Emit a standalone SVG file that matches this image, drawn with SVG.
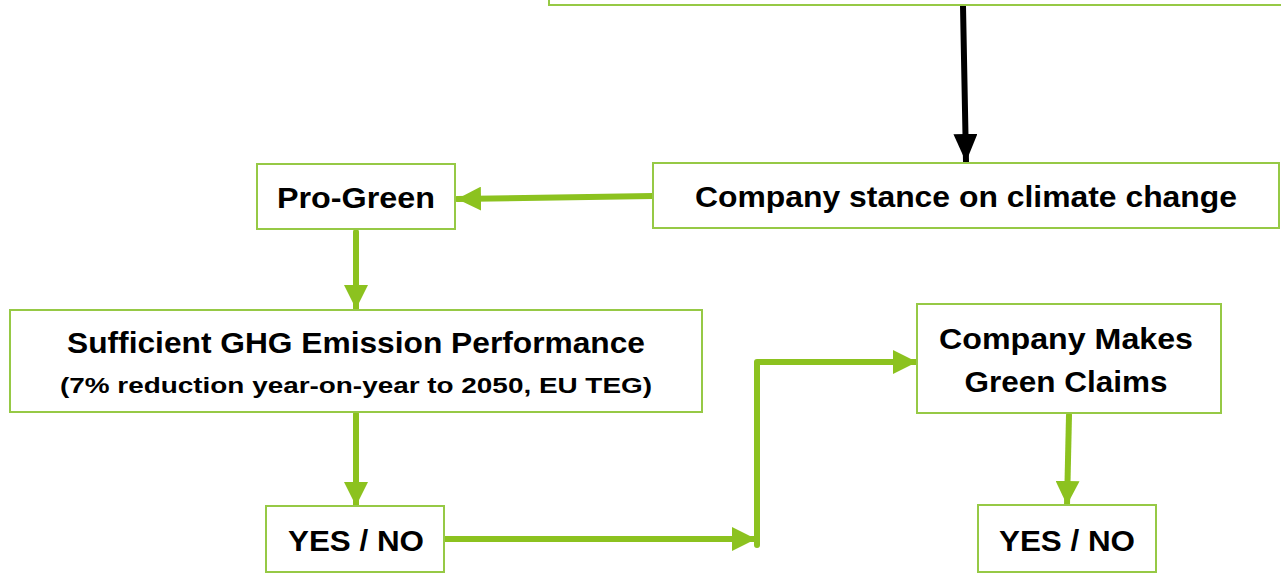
<svg xmlns="http://www.w3.org/2000/svg" width="1281" height="578" viewBox="0 0 1281 578">
  <style>
    .box { fill: #ffffff; stroke: #96c945; stroke-width: 2; }
    .lbl { font-family: "Liberation Sans", Arial, sans-serif; font-weight: bold; fill: #000000; text-anchor: middle; }
    .big { font-size: 29px; }
    .small { font-size: 22px; }
    .link { fill: none; stroke: #8cc21f; stroke-width: 6; stroke-linecap: round; stroke-linejoin: round; }
    .dark { fill: none; stroke: #000000; stroke-width: 6; stroke-linecap: round; }
  </style>
  <defs>
    <marker id="headGreen" viewBox="0 0 24 24" refX="24" refY="12" markerUnits="userSpaceOnUse" markerWidth="24" markerHeight="24" orient="auto">
      <path d="M0,0 L24,12 L0,24 Z" fill="#8cc21f"/>
    </marker>
    <marker id="headBlack" viewBox="0 0 28 24" refX="28" refY="12" markerUnits="userSpaceOnUse" markerWidth="28" markerHeight="24" orient="auto">
      <path d="M0,0 L28,12 L0,24 Z" fill="#000000"/>
    </marker>
  </defs>
  <rect width="1281" height="578" fill="#ffffff"/>

  <g id="connectors">
    <path class="dark" d="M963,6 L966,162" marker-end="url(#headBlack)"/>
    <path class="link" d="M653,196 L457,199" marker-end="url(#headGreen)"/>
    <path class="link" d="M356,232 L356,309" marker-end="url(#headGreen)"/>
    <path class="link" d="M356,414 L356,506" marker-end="url(#headGreen)"/>
    <path class="link" d="M444,539 L756,539" marker-end="url(#headGreen)"/>
    <path class="link" d="M757,545 L757,362 L917,362" marker-end="url(#headGreen)"/>
    <path class="link" d="M1069,415 L1067,505" marker-end="url(#headGreen)"/>
  </g>

  <g id="node-top">
    <rect class="box" x="549" y="-40" width="760" height="45"/>
  </g>

  <g id="node-stance">
    <rect class="box" x="653" y="163" width="626" height="65"/>
    <text class="lbl big" x="966" y="207" textLength="542" lengthAdjust="spacingAndGlyphs">Company stance on climate change</text>
  </g>

  <g id="node-progreen">
    <rect class="box" x="257" y="164" width="198" height="65"/>
    <text class="lbl big" x="356" y="208" textLength="158" lengthAdjust="spacingAndGlyphs">Pro-Green</text>
  </g>

  <g id="node-ghg">
    <rect class="box" x="10" y="310" width="692" height="102"/>
    <text class="lbl big" x="356" y="353" textLength="578" lengthAdjust="spacingAndGlyphs">Sufficient GHG Emission Performance</text>
    <text class="lbl small" x="356" y="393" textLength="592" lengthAdjust="spacingAndGlyphs">(7% reduction year-on-year to 2050, EU TEG)</text>
  </g>

  <g id="node-yesno-left">
    <rect class="box" x="266" y="506" width="178" height="66"/>
    <text class="lbl big" x="356" y="551" textLength="136" lengthAdjust="spacingAndGlyphs">YES / NO</text>
  </g>

  <g id="node-claims">
    <rect class="box" x="917" y="304" width="304" height="109"/>
    <text class="lbl big" x="1066" y="349" textLength="254" lengthAdjust="spacingAndGlyphs">Company Makes</text>
    <text class="lbl big" x="1066" y="392" textLength="203" lengthAdjust="spacingAndGlyphs">Green Claims</text>
  </g>

  <g id="node-yesno-right">
    <rect class="box" x="978" y="505" width="178" height="67"/>
    <text class="lbl big" x="1067" y="551" textLength="136" lengthAdjust="spacingAndGlyphs">YES / NO</text>
  </g>
</svg>
